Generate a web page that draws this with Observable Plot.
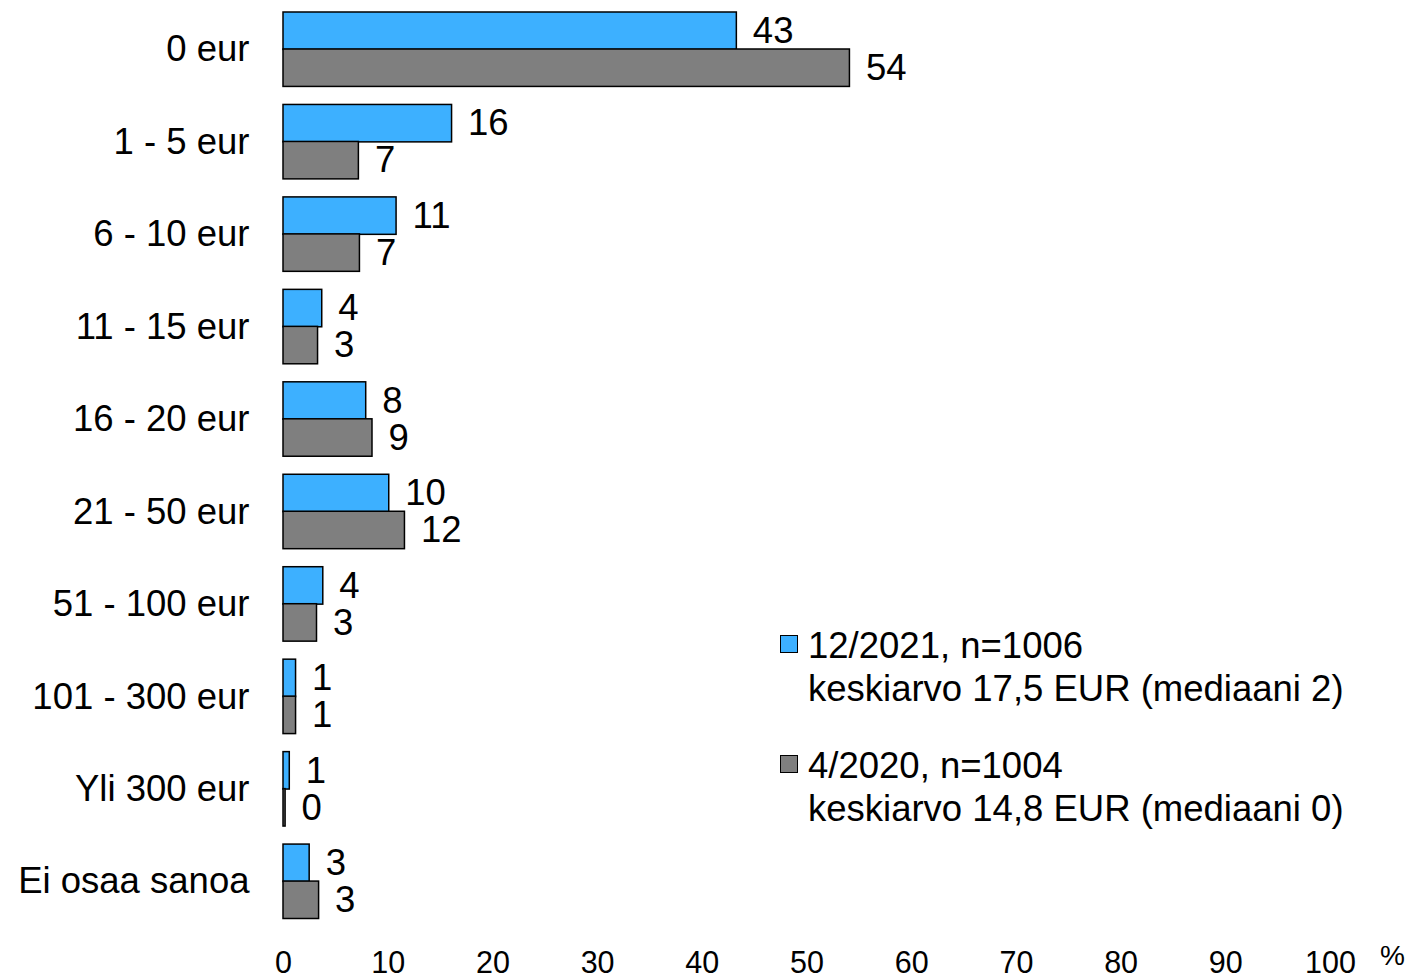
<!DOCTYPE html>
<html>
<head>
<meta charset="utf-8">
<script src="https://cdn.jsdelivr.net/npm/d3@7"></script>
<script src="https://cdn.jsdelivr.net/npm/@observablehq/plot@0.6"></script>
<style>
  html, body { margin: 0; padding: 0; background: #fff; }
  #wrap { position: relative; width: 1412px; height: 980px; font-family: "Liberation Sans", Arial, sans-serif; color: #000; }
  .leg { position: absolute; left: 780px; font-size: 36.5px; line-height: 43px; }
  .sw { position: absolute; left: 0; top: 11.5px; width: 16px; height: 16px; border: 1.5px solid #000; }
  .lt { margin-left: 28px; white-space: nowrap; }
  #pct { position: absolute; left: 1380px; top: 940px; font-size: 28px; }
</style>
</head>
<body>
<div id="wrap"></div>
<script>
const categories = ["0 eur","1 - 5 eur","6 - 10 eur","11 - 15 eur","16 - 20 eur","21 - 50 eur","51 - 100 eur","101 - 300 eur","Yli 300 eur","Ei osaa sanoa"];
const values2021 = [43.3, 16.1, 10.8, 3.7, 7.9, 10.1, 3.8, 1.2, 0.6, 2.5];
const values2020 = [54.1, 7.2, 7.3, 3.3, 8.5, 11.6, 3.2, 1.2, 0.2, 3.4];
const labels2021 = [43, 16, 11, 4, 8, 10, 4, 1, 1, 3];
const labels2020 = [54, 7, 7, 3, 9, 12, 3, 1, 0, 3];
const xTicks = [0, 10, 20, 30, 40, 50, 60, 70, 80, 90, 100];
const series = [
  {name: "12/2021, n=1006", note: "keskiarvo 17,5 EUR (mediaani 2)", color: "#3DB0FF"},
  {name: "4/2020, n=1004", note: "keskiarvo 14,8 EUR (mediaani 0)", color: "#7F7F7F"}
];

const d21 = categories.map((c, i) => ({cat: c, v: values2021[i], label: labels2021[i]}));
const d20 = categories.map((c, i) => ({cat: c, v: values2020[i], label: labels2020[i]}));

const half = 37;
const chart = Plot.plot({
  width: 1412,
  height: 980,
  marginLeft: 283,
  marginRight: 82,
  marginTop: 12,
  marginBottom: 61.5,
  style: {fontFamily: "Liberation Sans, Arial, sans-serif", color: "#000", background: "#fff", overflow: "visible"},
  x: {domain: [0, 100]},
  y: {domain: categories, paddingInner: 0.195, paddingOuter: 0, round: false},
  marks: [
    Plot.axisX({ticks: xTicks, tickSize: 0, tickPadding: 32, fontSize: 30.5, label: null}),
    Plot.axisY({tickSize: 0, tickPadding: 34, fontSize: 36.5, label: null}),
    Plot.barX(d21, {x: "v", y: "cat", fill: series[0].color, stroke: "#000", strokeWidth: 1.5, insetBottom: half}),
    Plot.barX(d20, {x: "v", y: "cat", fill: series[1].color, stroke: "#000", strokeWidth: 1.5, insetTop: half}),
    Plot.text(d21, {x: "v", y: "cat", text: "label", dx: 16, dy: -half / 2, textAnchor: "start", fontSize: 36.5, fill: "#000"}),
    Plot.text(d20, {x: "v", y: "cat", text: "label", dx: 16, dy: half / 2, textAnchor: "start", fontSize: 36.5, fill: "#000"})
  ]
});

const wrap = document.getElementById("wrap");
wrap.appendChild(chart);

const tops = [623.5, 743.5];
series.forEach((s, i) => {
  const d = document.createElement("div");
  d.className = "leg";
  d.style.top = tops[i] + "px";
  d.innerHTML = `<div class="sw" style="background:${s.color}"></div><div class="lt">${s.name}</div><div class="lt">${s.note}</div>`;
  wrap.appendChild(d);
});
const p = document.createElement("div");
p.id = "pct";
p.textContent = "%";
wrap.appendChild(p);
</script>
</body>
</html>
